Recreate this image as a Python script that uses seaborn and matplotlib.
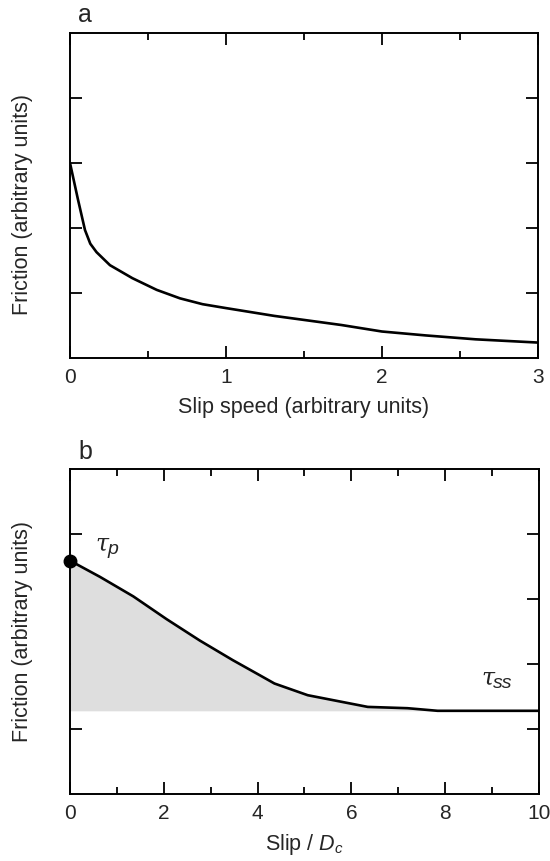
import matplotlib
matplotlib.use("Agg")
import matplotlib.pyplot as plt
import seaborn as sns
import pandas as pd
from matplotlib.ticker import MultipleLocator, NullFormatter

# Panel a: friction vs slip speed
speed_a = [0.0, 0.05, 0.096, 0.13, 0.17, 0.256, 0.40, 0.556, 0.705, 0.85, 1.0, 1.31, 1.74, 2.0, 2.28, 2.6, 3.0]
fric_a = [3.0, 2.45, 1.97, 1.76, 1.63, 1.43, 1.23, 1.05, 0.92, 0.83, 0.77, 0.65, 0.51, 0.41, 0.35, 0.29, 0.24]

# Panel b: friction vs slip / Dc
slip_b = [0.0, 0.64, 1.35, 2.06, 2.77, 3.47, 4.04, 4.36, 5.07, 5.78, 6.35, 7.2, 7.84, 10.0]
fric_b = [3.59, 3.34, 3.04, 2.69, 2.36, 2.06, 1.83, 1.70, 1.52, 1.42, 1.34, 1.32, 1.28, 1.28]
tau_ss = 1.28

sns.set_theme(style="ticks")
plt.rcParams['font.family'] = ['Liberation Sans', 'DejaVu Sans']
plt.rcParams['mathtext.fontset'] = 'custom'
plt.rcParams['mathtext.it'] = 'Liberation Sans:italic'
plt.rcParams['mathtext.rm'] = 'Liberation Sans'

FS = 15

fig = plt.figure(figsize=(5.5, 8.61), dpi=100)
ax1 = fig.add_axes([0.1273, 0.584, 0.8507, 0.3777])
ax2 = fig.add_axes([0.1273, 0.0778, 0.8525, 0.3775])

df_a = pd.DataFrame({"speed": speed_a, "friction": fric_a})
df_b = pd.DataFrame({"slip": slip_b, "friction": fric_b})

sns.lineplot(data=df_a, x="speed", y="friction", ax=ax1, color="black", lw=1.9, sort=False)
ax2.fill_between(slip_b, fric_b, tau_ss, color="#dedede", lw=0, zorder=1)
sns.lineplot(data=df_b, x="slip", y="friction", ax=ax2, color="black", lw=1.9, sort=False, zorder=3)
ax2.plot([slip_b[0]], [fric_b[0]], 'o', color='black', ms=9, clip_on=False, zorder=5)

ax1.set_xlim(0, 3)
ax1.set_ylim(0, 5)
ax2.set_xlim(0, 10)
ax2.set_ylim(0, 5)

ax1.xaxis.set_major_locator(MultipleLocator(1))
ax1.xaxis.set_minor_locator(MultipleLocator(0.5))
ax2.xaxis.set_major_locator(MultipleLocator(2))
ax2.xaxis.set_minor_locator(MultipleLocator(1))
for ax in (ax1, ax2):
    ax.set_yticks([1, 2, 3, 4])
    ax.yaxis.set_major_formatter(NullFormatter())
    ax.tick_params(which='major', direction='in', length=8.5, width=1.3,
                   top=True, right=True, labelsize=FS, pad=7, color='black')
    ax.tick_params(which='minor', direction='in', length=5, width=1.3,
                   top=True, right=True, color='black')
    for s in ax.spines.values():
        s.set_linewidth(1.4)
        s.set_color('black')
        s.set_visible(True)
    ax.set_ylabel("Friction (arbitrary units)", fontsize=15.5)

ax1.yaxis.set_label_coords(-0.079, 0.472)
ax2.yaxis.set_label_coords(-0.079, 0.5)

ax1.set_xlabel("Slip speed (arbitrary units)", fontsize=15.5, labelpad=7)
ax2.set_xlabel("Slip / $\\mathit{D_c}$", fontsize=15.5, labelpad=7)

ax1.text(0.017, 1.034, "a", transform=ax1.transAxes, fontsize=18, ha='left', va='baseline')
ax2.text(0.017, 1.03, "b", transform=ax2.transAxes, fontsize=18, ha='left', va='baseline')

def tau_label(ax, x, y, sub):
    t = ax.text(x, y, "τ", fontsize=17, family='DejaVu Serif', style='italic',
                ha='left', va='baseline')
    ax.annotate(sub, xy=(1, 0), xycoords=t, xytext=(-1, 1), textcoords='offset points',
                fontsize=14, style='italic', ha='left', va='baseline')

tau_label(ax2, 0.55, 3.75, "p")
tau_label(ax2, 8.78, 1.68, "ss")

fig.savefig("out.png", dpi=100)
